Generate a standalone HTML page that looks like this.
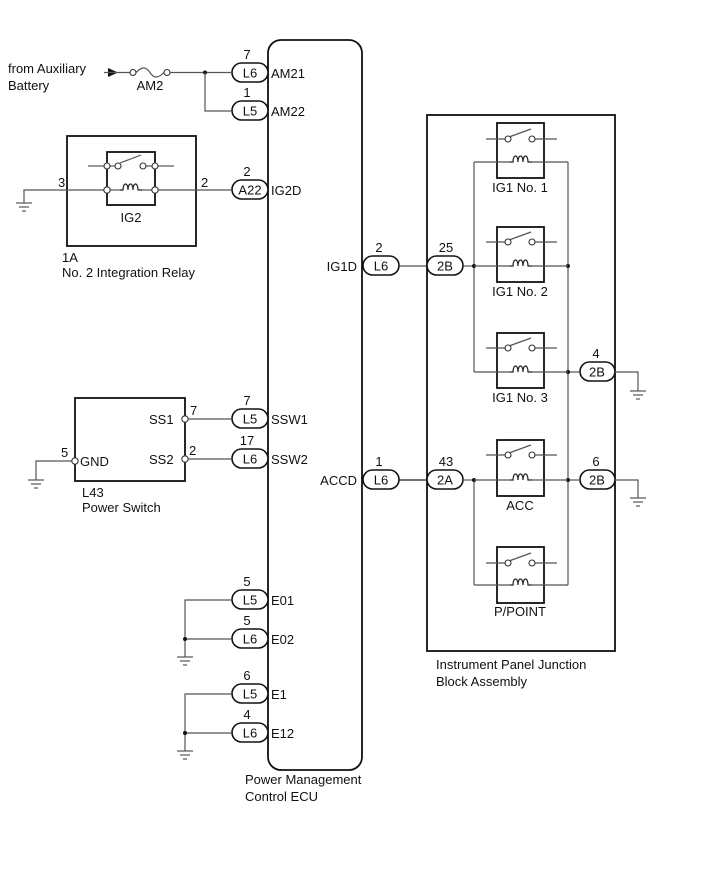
<!DOCTYPE html>
<html><head><meta charset="utf-8"><style>
html,body{margin:0;padding:0;background:#fff}
svg{display:block}
text{font-family:"Liberation Sans",sans-serif;font-size:13px;fill:#111}
.w{stroke:#555;stroke-width:1.2;fill:none}
.b{stroke:#111;stroke-width:1.8;fill:none}
.p{stroke:#111;stroke-width:1.6;fill:#fff}
.c{stroke:#333;stroke-width:1.1;fill:#fff}
</style></head><body>
<svg width="713" height="882" viewBox="0 0 713 882" xmlns="http://www.w3.org/2000/svg">
<defs>
<g id="gnd"><line class="w" x1="-8" y1="0" x2="8" y2="0"/><line class="w" x1="-5" y1="4" x2="5" y2="4"/><line class="w" x1="-2" y1="8" x2="2" y2="8"/></g>
<g id="coil"><path class="w" style="stroke:#222" d="M-11,0 L-8,0 c0,-8 5,-8 5,0 c0,-8 5,-8 5,0 c0,-8 5,-8 5,0 L11,0"/></g>
<g id="sw"><line class="w" x1="-31" y1="0" x2="-12" y2="0"/><line class="w" x1="18" y1="0" x2="40" y2="0"/><line class="w" x1="-8" y1="-2" x2="14" y2="-10"/><circle class="c" cx="-9" cy="0" r="3"/><circle class="c" cx="15" cy="0" r="3"/></g>
</defs>

<!-- ECU -->
<rect class="b" x="268" y="40" width="94" height="730" rx="13"/>
<text x="245" y="784">Power Management</text>
<text x="245" y="801">Control ECU</text>

<!-- left pills -->
<g>
<rect class="p" x="232" y="63" width="36" height="19" rx="9.5"/><text x="250" y="77.5" text-anchor="middle">L6</text><text x="247" y="59" text-anchor="middle">7</text><text x="271" y="78">AM21</text>
<rect class="p" x="232" y="101" width="36" height="19" rx="9.5"/><text x="250" y="115.5" text-anchor="middle">L5</text><text x="247" y="97" text-anchor="middle">1</text><text x="271" y="116">AM22</text>
<rect class="p" x="232" y="180" width="36" height="19" rx="9.5"/><text x="250" y="194.5" text-anchor="middle">A22</text><text x="247" y="176" text-anchor="middle">2</text><text x="271" y="195">IG2D</text>
<rect class="p" x="232" y="409" width="36" height="19" rx="9.5"/><text x="250" y="423.5" text-anchor="middle">L5</text><text x="247" y="405" text-anchor="middle">7</text><text x="271" y="424">SSW1</text>
<rect class="p" x="232" y="449" width="36" height="19" rx="9.5"/><text x="250" y="463.5" text-anchor="middle">L6</text><text x="247" y="445" text-anchor="middle">17</text><text x="271" y="464">SSW2</text>
<rect class="p" x="232" y="590" width="36" height="19" rx="9.5"/><text x="250" y="604.5" text-anchor="middle">L5</text><text x="247" y="586" text-anchor="middle">5</text><text x="271" y="605">E01</text>
<rect class="p" x="232" y="629" width="36" height="19" rx="9.5"/><text x="250" y="643.5" text-anchor="middle">L6</text><text x="247" y="625" text-anchor="middle">5</text><text x="271" y="644">E02</text>
<rect class="p" x="232" y="684" width="36" height="19" rx="9.5"/><text x="250" y="698.5" text-anchor="middle">L5</text><text x="247" y="680" text-anchor="middle">6</text><text x="271" y="699">E1</text>
<rect class="p" x="232" y="723" width="36" height="19" rx="9.5"/><text x="250" y="737.5" text-anchor="middle">L6</text><text x="247" y="719" text-anchor="middle">4</text><text x="271" y="738">E12</text>
</g>

<!-- battery / fuse -->
<text x="8" y="73">from Auxiliary</text>
<text x="8" y="90">Battery</text>
<polygon points="108,68 118,72.5 108,77" fill="#111"/>
<line class="w" x1="104" y1="72.5" x2="130" y2="72.5"/>
<path class="w" d="M136,72.5 c6,-6 10,-6 14,0 c4,6 8,6 14,0"/>
<circle class="c" cx="133" cy="72.5" r="3"/><circle class="c" cx="167" cy="72.5" r="3"/>
<line class="w" x1="170" y1="72.5" x2="232" y2="72.5"/>
<text x="150" y="90" text-anchor="middle">AM2</text>
<circle cx="205" cy="72.5" r="2" fill="#111"/>
<polyline class="w" points="205,72.5 205,111 232,111"/>

<!-- relay 1A -->
<rect class="b" x="67" y="136" width="129" height="110"/>
<rect class="b" x="107" y="152" width="48" height="53"/>
<line class="w" x1="88" y1="166" x2="104" y2="166"/><line class="w" x1="158" y1="166" x2="174" y2="166"/>
<line class="w" x1="110" y1="166" x2="115" y2="166"/><line class="w" x1="146" y1="166" x2="152" y2="166"/>
<line class="w" x1="120" y1="163" x2="141" y2="155"/>
<circle class="c" cx="107" cy="166" r="3"/><circle class="c" cx="118" cy="166" r="3"/><circle class="c" cx="143" cy="166" r="3"/><circle class="c" cx="155" cy="166" r="3"/>
<polyline class="w" points="24,203 24,190 104,190"/>
<line class="w" x1="110" y1="190" x2="121" y2="190"/><line class="w" x1="141" y1="190" x2="152" y2="190"/>
<use href="#coil" x="131" y="190"/>
<line class="w" x1="158" y1="190" x2="232" y2="190"/>
<circle class="c" cx="107" cy="190" r="3.2"/><circle class="c" cx="155" cy="190" r="3.2"/>
<use href="#gnd" x="24" y="203"/>
<text x="58" y="187">3</text><text x="201" y="187">2</text>
<text x="131" y="222" text-anchor="middle">IG2</text>
<text x="62" y="262">1A</text>
<text x="62" y="277">No. 2 Integration Relay</text>

<!-- power switch -->
<rect class="b" x="75" y="398" width="110" height="83"/>
<text x="149" y="424">SS1</text><text x="149" y="464">SS2</text><text x="80" y="466">GND</text>
<text x="190" y="415">7</text><text x="189" y="455">2</text><text x="61" y="457">5</text>
<line class="w" x1="188" y1="419" x2="232" y2="419"/><line class="w" x1="188" y1="459" x2="232" y2="459"/>
<circle class="c" cx="185" cy="419" r="3.2"/><circle class="c" cx="185" cy="459" r="3.2"/>
<polyline class="w" points="72,461 36,461 36,480"/>
<circle class="c" cx="75" cy="461" r="3.2"/>
<use href="#gnd" x="36" y="480"/>
<text x="82" y="497">L43</text>
<text x="82" y="512">Power Switch</text>

<!-- grounds E -->
<polyline class="w" points="232,600 185,600 185,657"/>
<line class="w" x1="185" y1="639" x2="232" y2="639"/><circle cx="185" cy="639" r="2" fill="#111"/>
<use href="#gnd" x="185" y="657"/>
<polyline class="w" points="232,694 185,694 185,751"/>
<line class="w" x1="185" y1="733" x2="232" y2="733"/><circle cx="185" cy="733" r="2" fill="#111"/>
<use href="#gnd" x="185" y="751"/>

<!-- right side ECU pins -->
<text x="357" y="271" text-anchor="end">IG1D</text>
<text x="357" y="485" text-anchor="end">ACCD</text>
<rect class="p" x="363" y="256" width="36" height="19" rx="9.5"/><text x="381" y="270.5" text-anchor="middle">L6</text><text x="379" y="252" text-anchor="middle">2</text>
<rect class="p" x="363" y="470" width="36" height="19" rx="9.5"/><text x="381" y="484.5" text-anchor="middle">L6</text><text x="379" y="466" text-anchor="middle">1</text>
<line class="w" x1="399" y1="266" x2="427" y2="266"/>
<line class="w" x1="399" y1="480" x2="427" y2="480" style="stroke:#222"/>

<!-- junction block -->
<rect class="b" x="427" y="115" width="188" height="536"/>
<text x="436" y="669">Instrument Panel Junction</text>
<text x="436" y="686">Block Assembly</text>
<rect class="p" x="427" y="256" width="36" height="19" rx="9.5"/><text x="445" y="270.5" text-anchor="middle">2B</text><text x="446" y="252" text-anchor="middle">25</text>
<rect class="p" x="427" y="470" width="36" height="19" rx="9.5"/><text x="445" y="484.5" text-anchor="middle">2A</text><text x="446" y="466" text-anchor="middle">43</text>
<rect class="p" x="580" y="362" width="35" height="19" rx="9.5"/><text x="597" y="376.5" text-anchor="middle">2B</text><text x="596" y="358" text-anchor="middle">4</text>
<rect class="p" x="580" y="470" width="35" height="19" rx="9.5"/><text x="597" y="484.5" text-anchor="middle">2B</text><text x="596" y="466" text-anchor="middle">6</text>
<polyline class="w" points="615,372 638,372 638,391"/><use href="#gnd" x="638" y="391"/>
<polyline class="w" points="615,480 638,480 638,498"/><use href="#gnd" x="638" y="498"/>

<!-- buses -->
<polyline class="w" points="474,162 474,372"/>
<polyline class="w" points="568,162 568,585"/>
<polyline class="w" points="474,480 474,585"/>
<line class="w" x1="463" y1="266" x2="474" y2="266"/>
<line class="w" x1="463" y1="480" x2="474" y2="480"/>
<line class="w" x1="568" y1="372" x2="580" y2="372"/>
<line class="w" x1="568" y1="480" x2="580" y2="480"/>
<circle cx="474" cy="266" r="2" fill="#111"/><circle cx="568" cy="266" r="2" fill="#111"/>
<circle cx="568" cy="372" r="2" fill="#111"/><circle cx="474" cy="480" r="2" fill="#111"/><circle cx="568" cy="480" r="2" fill="#111"/>

<!-- relays -->
<g>
<rect class="b" x="497" y="123" width="47" height="55"/>
<line class="w" x1="474" y1="162" x2="510" y2="162"/><line class="w" x1="532" y1="162" x2="568" y2="162"/><use href="#coil" x="521" y="162"/>
<use href="#sw" x="517" y="139"/>
<text x="520" y="192" text-anchor="middle">IG1 No. 1</text>

<rect class="b" x="497" y="227" width="47" height="55"/>
<line class="w" x1="474" y1="266" x2="510" y2="266"/><line class="w" x1="532" y1="266" x2="568" y2="266"/><use href="#coil" x="521" y="266"/>
<use href="#sw" x="517" y="242"/>
<text x="520" y="296" text-anchor="middle">IG1 No. 2</text>

<rect class="b" x="497" y="333" width="47" height="55"/>
<line class="w" x1="474" y1="372" x2="510" y2="372"/><line class="w" x1="532" y1="372" x2="568" y2="372"/><use href="#coil" x="521" y="372"/>
<use href="#sw" x="517" y="348"/>
<text x="520" y="402" text-anchor="middle">IG1 No. 3</text>

<rect class="b" x="497" y="440" width="47" height="56"/>
<line class="w" x1="474" y1="480" x2="510" y2="480"/><line class="w" x1="532" y1="480" x2="568" y2="480"/><use href="#coil" x="521" y="480"/>
<use href="#sw" x="517" y="455"/>
<text x="520" y="510" text-anchor="middle">ACC</text>

<rect class="b" x="497" y="547" width="47" height="56"/>
<line class="w" x1="474" y1="585" x2="510" y2="585"/><line class="w" x1="532" y1="585" x2="568" y2="585"/><use href="#coil" x="521" y="585"/>
<use href="#sw" x="517" y="563"/>
<text x="520" y="616" text-anchor="middle">P/POINT</text>
</g>
</svg>
</body></html>
